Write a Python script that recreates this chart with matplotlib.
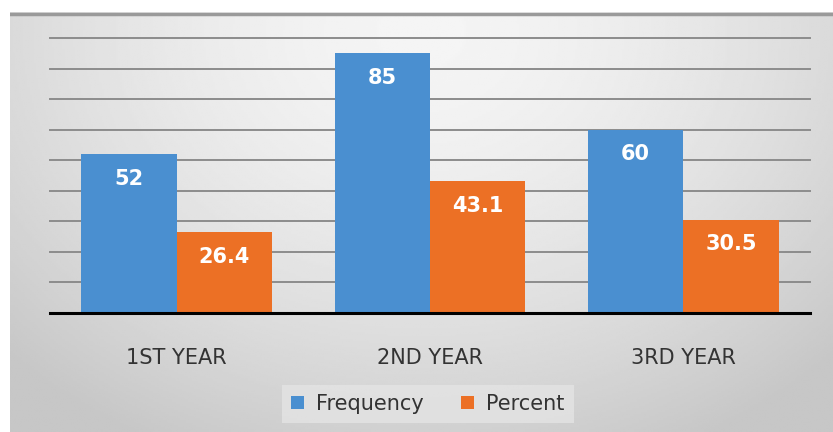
import numpy as np
import matplotlib
matplotlib.use('Agg')
from matplotlib import pyplot as plt

categories = ['1ST YEAR', '2ND YEAR', '3RD YEAR']
frequency = [52, 85, 60]
percent = [26.4, 43.1, 30.5]
freq_labels = ['52', '85', '60']
pct_labels = ['26.4', '43.1', '30.5']

W, H = 833, 432
fig = plt.figure(figsize=(W / 100, H / 100), dpi=100)
fig.patch.set_facecolor('white')

# gray gradient card behind the chart
bg = fig.add_axes([10 / W, 0, 1 - 10 / W, 1 - 12 / H])
yy, xx = np.mgrid[0:1:200j, 0:1:400j]
d = np.sqrt(((xx - 0.5) / 0.7) ** 2 + ((yy - 0.05) / 1.1) ** 2)
shade = 0.96 - 0.18 * np.clip(d, 0, 1) ** 1.6
bg.imshow(shade, cmap='gray', vmin=0, vmax=1, aspect='auto', extent=[0, 1, 1, 0])
bg.set_axis_off()
bg.plot([0, 1], [0.996, 0.996], color='#9a9a9a', lw=2.5, transform=bg.transAxes)

ax = fig.add_axes([50 / W, (H - 313) / H, 760 / W, (313 - 38) / H])
ax.set_facecolor('none')
x = np.arange(len(categories))
w = 0.376
b1 = ax.bar(x - w / 2, frequency, w, color='#4a8fd0', label='Frequency', zorder=3)
b2 = ax.bar(x + w / 2, percent, w, color='#ec7025', label='Percent', zorder=3)

for bars, labs in ((b1, freq_labels), (b2, pct_labels)):
    for r, t in zip(bars, labs):
        ax.text(r.get_x() + r.get_width() / 2, r.get_height() - 8, t, ha='center', va='center',
                color='white', fontsize=15, fontweight='bold', zorder=4)

ax.set_xlim(-0.5, 2.5)
ax.set_ylim(0, 90)
ax.set_yticks(np.arange(10, 91, 10))
ax.yaxis.grid(True, color='#8c8c8c', lw=1.4, zorder=1)
for gl in ax.get_ygridlines():
    gl.set_clip_on(False)
ax.tick_params(axis='y', left=False, labelleft=False)
ax.tick_params(axis='x', bottom=False, pad=22, labelsize=15, labelcolor='#333333')
ax.set_xticks(x)
ax.set_xticklabels(categories)
for s in ['top', 'right', 'left']:
    ax.spines[s].set_visible(False)
ax.spines['bottom'].set_color('black')
ax.spines['bottom'].set_linewidth(2.2)
ax.spines['bottom'].set_zorder(5)

leg = fig.legend(loc='center', bbox_to_anchor=(428 / W, 1 - 404 / H), ncol=2, frameon=True,
                 fontsize=15, handlelength=0.6, handleheight=0.6, handletextpad=0.6,
                 columnspacing=1.8, borderpad=0.45, borderaxespad=0, fancybox=False)
leg.get_frame().set_facecolor('#e4e4e4')
leg.get_frame().set_edgecolor('none')
for t in leg.get_texts():
    t.set_color('#333333')

fig.savefig('out.png', dpi=100)
